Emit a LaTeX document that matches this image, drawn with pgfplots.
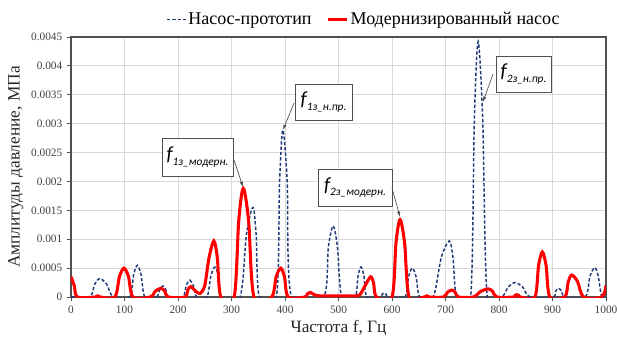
\documentclass[border=0pt]{standalone}
\usepackage{pgfplots}
\pgfplotsset{compat=1.18}
\usepackage{fontspec}
\setmainfont{Liberation Serif}
\newfontfamily\calibri{Carlito}
\usetikzlibrary{arrows.meta}
\definecolor{proto}{RGB}{31,56,120}
\definecolor{gridc}{RGB}{217,217,217}
\definecolor{axc}{RGB}{80,80,80}
\newcommand{\lab}[2]{{\calibri\itshape\fontsize{15}{15}\selectfont #1\raisebox{-0.45ex}{\fontsize{8.5}{9}\selectfont #2}}}
\begin{document}
\begin{tikzpicture}
\useasboundingbox (-53.25pt,-32.25pt) rectangle (409.5pt,222.75pt);
\begin{axis}[
  at={(0,0)}, anchor=south west, scale only axis,
  width=401.25pt, height=195pt,
  xmin=0, xmax=1000, ymin=0, ymax=0.0045,
  xtick={0,100,200,300,400,500,600,700,800,900,1000},
  xticklabels={0,100,200,300,400,500,600,700,800,900,1000},
  ytick={0,0.0005,0.001,0.0015,0.002,0.0025,0.003,0.0035,0.004,0.0045},
  yticklabels={0,0.0005,0.001,0.0015,0.002,0.0025,0.003,0.0035,0.004,0.0045},
  scaled y ticks=false,
  grid=major,
  major grid style={gridc, line width=0.6pt},
  axis line style={axc, line width=0.9pt},
  tick style={axc, line width=0.6pt},
  tick align=outside, major tick length=3pt,
  xtick pos=bottom, ytick pos=left,
  tick label style={font=\fontsize{8.5}{10}\selectfont, text=black!75},
  label style={font=\fontsize{13}{15}\selectfont, text=black!85},
  xlabel={Частота f, Гц},
  ylabel={Амплитуды давление, МПа},
  xlabel style={yshift=2pt},
  ylabel style={yshift=-1pt},
  legend columns=2,
  legend style={at={(0.5475,1.068)}, anchor=center, draw=none, fill=none,
    font=\fontsize{13.5}{15}\selectfont,
    nodes={inner xsep=1.5pt},
    /tikz/every even column/.append style={column sep=10pt}},
  legend image code/.code={\draw[#1] (0pt,0pt) -- (14pt,0pt);},
]
\addplot[proto, line width=1.1pt, dash pattern=on 2.5pt off 1.5pt, smooth, tension=0.5] coordinates {
(0,0) (35,0) (44.5,0.000224) (54,0.00032) (66.5,0.000224) (79,0)
(110,0) (117,0.000385) (124,0.00055) (131,0.000385) (138,0)
(160,0) (166,0.000133) (172,0.00019) (177,0.000133) (182,0)
(209,0) (215.5,0.000203) (222,0.00029) (228.5,0.000203) (235,0)
(254,0) (261.5,0.000364) (269,0.00052) (275.5,0.000364) (282,0)
(316,0) (328,0.001085) (340,0.00155) (346,0.001085) (352,0)
(384,0) (390,0.002023) (396,0.00289) (404,0.002023) (412,0)
(472,0) (481,0.000861) (490,0.00123) (498,0.000861) (506,0)
(531,0) (536.5,0.000364) (542,0.00052) (547.5,0.000364) (553,0)
(578,0) (581.5,0.000049) (585,0.00007) (589,0.000049) (593,0)
(624,0) (631,0.00035) (638,0.0005) (645,0.00035) (652,0)
(677,0) (692,0.000679) (707,0.00097) (714,0.000679) (721,0)
(747,0) (754,0.003094) (761,0.00442) (769.5,0.003094) (778,0)
(805,0) (817.5,0.000175) (830,0.00025) (844,0.000175) (858,0)
(901,0) (906,0.000105) (911,0.00015) (917,0.000105) (923,0)
(961,0) (970,0.000357) (979,0.00051) (985.5,0.000357) (992,0)
(1000,0)
};
\addlegendentry{Насос-прототип}
\addplot[red, line width=2.3pt, smooth, tension=0.5] coordinates {
(0,0.00035) (6,0.0002) (12,0)
(45,0) (50,0.00002) (55,0)
(82,0) (90.5,0.00035) (99,0.0005) (107.5,0.00035) (116,0)
(148,0) (158,0.000105) (168,0.00015) (175,0.000105) (182,0)
(213,0) (218.5,0.000126) (224,0.00018) (232,0.00011) (241,0.00006) (250,0.0002) (258,0.00068) (267,0.00097) (273.5,0.00068) (280,0)
(305,0) (313.5,0.001316) (322,0.00188) (332,0.001316) (342,0)
(375,0) (383.5,0.00035) (392,0.0005) (399,0.00035) (406,0)
(437,0) (442,0.000056) (447,0.00008) (455,0.00004) (465,0.00002) (500,0.00002) (530,0.00002) (540,0.00004)
(550,0.0002) (560,0.00035) (565.5,0.000245) (571,0)
(600,0) (607.5,0.000938) (615,0.00134) (623.5,0.000938) (632,0)
(660,0) (665,0.00002) (670,0)
(696,0) (704,0.000084) (712,0.00012) (718,0.000084) (724,0)
(752,0) (766,0.000098) (780,0.00014) (788,0.000098) (796,0)
(827,0) (830,0.000028) (833,0.00004) (836.5,0.000028) (840,0)
(867,0) (874,0.000546) (881,0.00078) (888,0.000546) (895,0)
(923,0) (929.5,0.000266) (936,0.00038) (947,0.000266) (958,0)
(992,0) (1000,0.0002)
};
\addlegendentry{Модернизированный насос}
\tikzset{box/.style={draw=axc, fill=white, line width=0.6pt, inner sep=2pt, align=center},
         arr/.style={axc, line width=0.5pt, -{Latex[length=4pt,width=2.5pt]}}}
\node[box, minimum width=53.25pt, minimum height=28.5pt] at (axis cs:236.4,0.002423) {\lab{f}{1з\_модерн.}};
\node[box, minimum width=42.75pt, minimum height=27pt] at (axis cs:472,0.003375) {\lab{f}{1з\_н.пр.}};
\node[box, minimum width=55.5pt, minimum height=27.75pt] at (axis cs:530.8,0.001895) {\lab{f}{2з\_модерн.}};
\node[box, minimum width=41.25pt, minimum height=27pt] at (axis cs:845.8,0.00386) {\lab{f}{2з\_н.пр.}};
\draw[arr] (axis cs:304.7,0.002371) -- (axis cs:321.5,0.001904);
\draw[arr] (axis cs:416.8,0.003358) -- (axis cs:396.3,0.00289);
\draw[arr] (axis cs:600,0.001887) -- (axis cs:615,0.001385);
\draw[arr] (axis cs:788.8,0.00386) -- (axis cs:770,0.003375);
\end{axis}
\end{tikzpicture}
\end{document}
